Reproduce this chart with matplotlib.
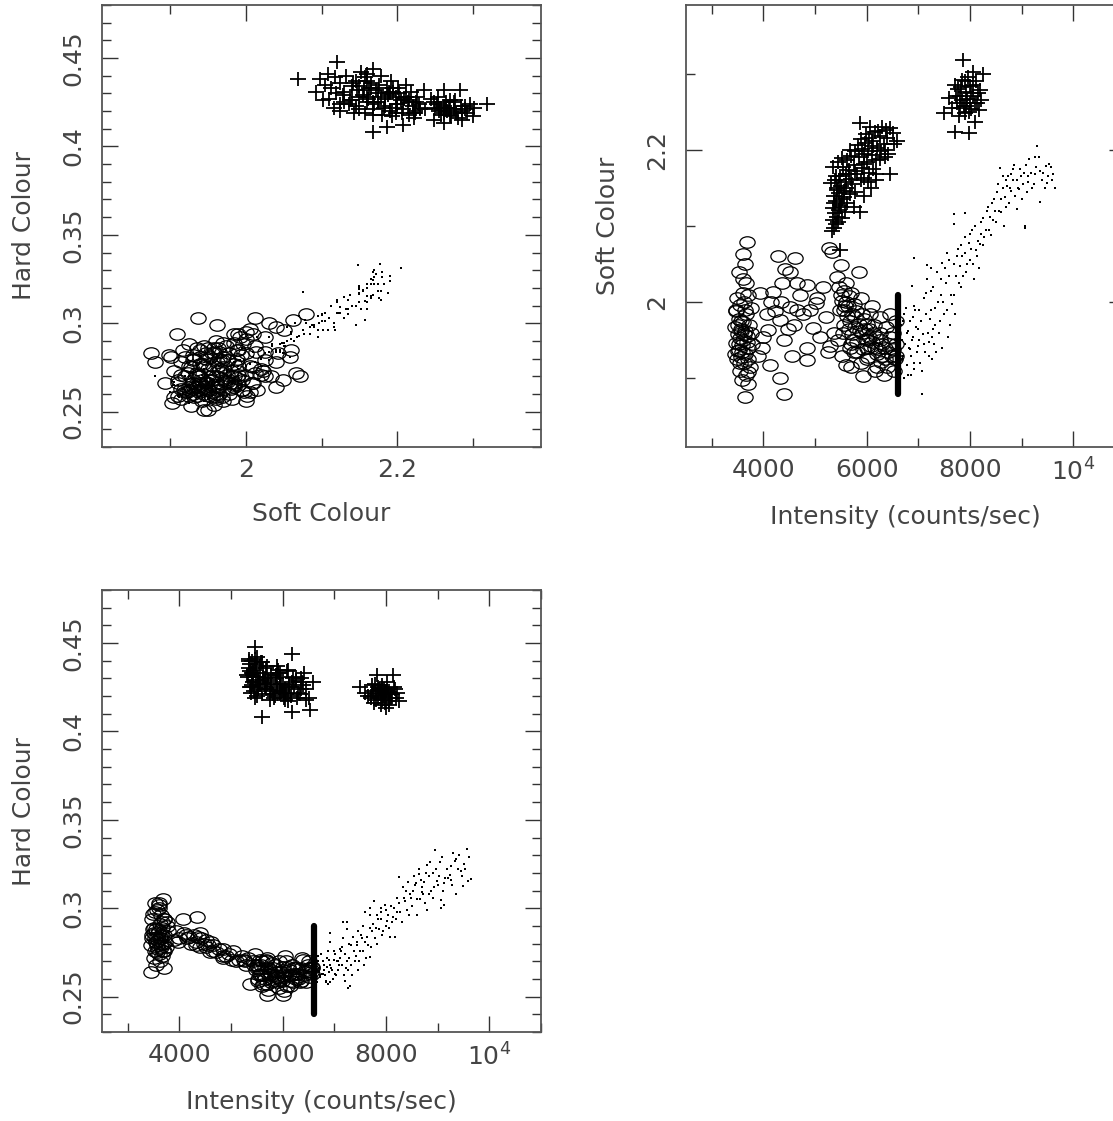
import matplotlib
matplotlib.use("Agg")
import matplotlib.pyplot as plt
from matplotlib.markers import MarkerStyle
from matplotlib.transforms import Affine2D
from matplotlib.ticker import FixedLocator, MultipleLocator, FuncFormatter

# ---- data: (intensity, soft colour, hard colour) ----
# "+" state, lower-intensity clump
plus_a_int = [5330, 5360, 5400, 5350, 5420, 5380, 5460, 5340, 5480, 5410,
              5520, 5370, 5460, 5550, 5430, 5500, 5480,
              5310, 5390, 5600, 5700, 5480, 5820, 5950, 5590, 5650, 6050,
              5350, 5760, 5900, 6170, 5450, 5620, 6000, 5850, 5700, 6250,
              5530, 6100, 5860, 5950, 6080, 5780, 6180, 6170,
              5780, 5900, 6020, 6200, 5830, 5960, 6100, 6330, 5880, 6050,
              6250, 6400, 5990, 6150, 6380, 6450, 5870, 6300, 6450, 6420,
              6530, 6590,
              5450, 5520, 5580, 5500, 5620, 5560, 5680, 5600, 5720, 5400,
              5660, 5880, 6020, 5540, 5780, 6120, 5950, 6350, 5680, 6130,
              6280, 5940, 6220, 6060, 5360, 5420, 5470, 5760, 6500, 6360]
plus_a_soft = [2.093, 2.098, 2.102, 2.108, 2.112, 2.117, 2.121, 2.124, 2.128, 2.133,
               2.136, 2.140, 2.143, 2.146, 2.150, 2.152, 2.069,
               2.156, 2.160, 2.158, 2.162, 2.165, 2.168, 2.163, 2.168, 2.174, 2.170,
               2.178, 2.180, 2.176, 2.168, 2.184, 2.186, 2.184, 2.190, 2.192, 2.188,
               2.189, 2.193, 2.119, 2.140, 2.150, 2.145, 2.160, 2.186,
               2.198, 2.201, 2.199, 2.203, 2.206, 2.209, 2.211, 2.208, 2.214, 2.216,
               2.218, 2.215, 2.221, 2.223, 2.226, 2.229, 2.235, 2.230, 2.168, 2.195,
               2.208, 2.212,
               2.105, 2.110, 2.118, 2.125, 2.130, 2.138, 2.142, 2.150, 2.155, 2.165,
               2.168, 2.160, 2.158, 2.178, 2.172, 2.175, 2.182, 2.190, 2.200, 2.205,
               2.198, 2.195, 2.225, 2.230, 2.130, 2.147, 2.160, 2.125, 2.222, 2.200]
plus_a_hard = [0.431, 0.438, 0.426, 0.441, 0.433, 0.422, 0.448, 0.436, 0.429, 0.440,
               0.424, 0.434, 0.419, 0.437, 0.428, 0.442, 0.438,
               0.432, 0.425, 0.439, 0.427, 0.436, 0.421, 0.433, 0.408, 0.430, 0.424,
               0.440, 0.418, 0.435, 0.444, 0.423, 0.433, 0.427, 0.420, 0.437, 0.429,
               0.431, 0.417, 0.430, 0.426, 0.434, 0.423, 0.428, 0.411,
               0.428, 0.433, 0.422, 0.430, 0.419, 0.427, 0.435, 0.421, 0.425, 0.418,
               0.431, 0.426, 0.423, 0.420, 0.428, 0.424, 0.432, 0.422, 0.418, 0.433,
               0.412, 0.428,
               0.435, 0.427, 0.439, 0.420, 0.431, 0.426, 0.436, 0.421, 0.429, 0.433,
               0.425, 0.437, 0.419, 0.428, 0.432, 0.425, 0.422, 0.430, 0.424, 0.426,
               0.419, 0.431, 0.425, 0.421, 0.425, 0.432, 0.441, 0.424, 0.419, 0.424]

# "+" state, clump near 8000 c/s
plus_b_int = [7870, 7710, 7970, 8100, 7490, 7820, 8140, 7650, 7750, 7800,
              7880, 7920, 7950, 8000, 8050, 8120, 7840, 7960, 8020, 8200,
              7600, 7900, 8260, 8060, 7780, 7990, 8180, 7700,
              7850, 7930, 8010, 7760, 8090, 7900, 8150, 7980, 7720, 8060,
              7810, 8220]
plus_b_soft = [2.318, 2.224, 2.222, 2.237, 2.248, 2.283, 2.262, 2.255, 2.262, 2.270,
               2.258, 2.276, 2.266, 2.284, 2.271, 2.290, 2.292, 2.296, 2.254, 2.278,
               2.268, 2.248, 2.300, 2.302, 2.245, 2.262, 2.252, 2.285,
               2.265, 2.258, 2.275, 2.280, 2.262, 2.290, 2.275, 2.250, 2.270, 2.285,
               2.255, 2.265]
plus_b_hard = [0.424, 0.419, 0.416, 0.421, 0.425, 0.432, 0.432, 0.420, 0.423, 0.418,
               0.422, 0.426, 0.420, 0.423, 0.417, 0.421, 0.419, 0.424, 0.428, 0.419,
               0.422, 0.415, 0.417, 0.422, 0.427, 0.413, 0.424, 0.420,
               0.425, 0.418, 0.421, 0.416, 0.419, 0.423, 0.425, 0.422, 0.426, 0.415,
               0.421, 0.422]

# "o" state
circ_int = [3680, 3600, 3560, 3640, 3520, 3600, 3700, 3490, 3620, 3550,
            3760, 3470, 3660, 3530, 3600, 3720, 3450, 3570, 3640, 3500,
            3680, 3540, 3610, 3460, 3580, 3700, 3510, 3650, 3560, 3480,
            3620, 3740, 3540, 3660, 3590, 3700, 3640, 3750, 3780, 3470,
            3450, 3700, 3530, 3660,
            4290, 4610, 4420, 4520, 4320, 4640, 4965, 4840, 4840, 4320,
            4130, 4000, 3930, 4220, 4190, 4640, 4840, 5030, 5010, 5220,
            4510, 4600, 4090, 4075, 4330, 5260, 5320, 5290, 5250, 4760,
            4400, 3900, 4400, 5100,
            5420, 5510, 5840, 5470, 5550, 5600, 5650, 5520, 5700, 5580,
            5750, 5480, 5800, 5620, 5900, 5680, 5950, 5560, 6000, 5780,
            6050, 5860, 6120, 5720, 6180, 5980, 6250, 5820, 6300, 6080,
            6350, 5920, 6420, 6200, 6480, 6020, 6550, 6280, 5600, 5700,
            5920, 6400, 6520, 6150, 5690, 6010, 5370, 6500, 6560, 6450,
            6380, 6560, 6100, 6250, 5880, 6000, 5760, 5450, 6330, 5530,
            5500, 5560, 5640, 5720, 5780, 5850, 5900, 5960, 6040, 6100,
            6160, 6220, 6300, 6360, 6440, 6500, 6560, 5660, 5740, 5820,
            5600, 5680, 6060, 6140, 6200, 6000, 5540, 6450, 5880, 6260,
            3560, 3620, 3520, 3680, 3580, 3500, 3640, 3700, 3540, 3600,
            4150, 4480, 4700, 4900, 5150, 4360, 3980, 4560]
circ_soft = [2.079, 2.063, 1.962, 2.050, 1.937, 2.012, 2.010, 2.005, 2.000, 1.996,
             1.992, 1.988, 1.984, 1.978, 1.974, 1.970, 1.968, 1.965, 1.962, 1.958,
             1.956, 1.953, 1.950, 1.947, 1.944, 1.940, 1.936, 1.932, 1.928, 1.925,
             1.920, 1.915, 1.910, 1.905, 1.898, 1.909, 1.875, 1.960, 1.945, 1.990,
             1.932, 1.893, 2.040, 2.025,
             2.060, 2.058, 2.043, 2.040, 1.977, 1.990, 1.966, 1.940, 1.924, 1.901,
             1.917, 1.955, 2.012, 1.988, 2.014, 2.025, 2.023, 2.005, 1.999, 1.981,
             1.994, 1.970, 1.963, 1.985, 2.000, 2.071, 2.066, 1.942, 1.935, 1.985,
             1.950, 1.930, 1.880, 1.955,
             2.033, 2.049, 2.040, 2.020, 2.015, 2.025, 2.008, 2.002, 2.012, 1.995,
             1.998, 1.990, 1.988, 1.982, 1.985, 1.975, 1.978, 1.970, 1.972, 1.968,
             1.965, 1.962, 1.960, 1.958, 1.955, 1.952, 1.950, 1.948, 1.945, 1.942,
             1.940, 1.938, 1.935, 1.932, 1.930, 1.928, 1.925, 1.922, 1.918, 1.915,
             1.903, 1.915, 1.910, 1.910, 1.945, 1.950, 1.960, 1.960, 1.975, 1.985,
             1.968, 1.945, 1.995, 1.980, 2.005, 1.925, 1.935, 1.950, 1.905, 1.930,
             2.010, 1.990, 1.995, 1.985, 1.980, 1.972, 1.960, 1.965, 1.955, 1.948,
             1.940, 1.938, 1.930, 1.925, 1.945, 1.938, 1.930, 1.965, 1.950, 1.935,
             2.000, 1.940, 1.985, 1.970, 1.915, 1.940, 1.960, 1.955, 1.920, 1.960,
             1.975, 1.958, 1.945, 1.948, 1.935, 1.970, 1.990, 1.925, 1.920, 2.030,
             2.000, 1.965, 2.010, 1.990, 2.020, 2.025, 1.940, 1.930]
circ_hard = [0.305, 0.302, 0.299, 0.296, 0.303, 0.303, 0.294, 0.297, 0.291, 0.288,
             0.292, 0.285, 0.289, 0.283, 0.287, 0.281, 0.279, 0.284, 0.278, 0.286,
             0.276, 0.281, 0.274, 0.283, 0.277, 0.285, 0.272, 0.280, 0.275, 0.288,
             0.270, 0.278, 0.268, 0.273, 0.282, 0.294, 0.283, 0.290, 0.287, 0.294,
             0.264, 0.266, 0.298, 0.292,
             0.285, 0.281, 0.283, 0.278, 0.279, 0.276, 0.274, 0.277, 0.272, 0.281,
             0.285, 0.283, 0.287, 0.280, 0.284, 0.279, 0.273, 0.276, 0.271, 0.273,
             0.282, 0.275, 0.286, 0.294, 0.295, 0.270, 0.272, 0.268, 0.271, 0.277,
             0.286, 0.282, 0.278, 0.270,
             0.270, 0.268, 0.264, 0.274, 0.262, 0.270, 0.266, 0.259, 0.272, 0.268,
             0.261, 0.265, 0.269, 0.257, 0.264, 0.271, 0.260, 0.263, 0.267, 0.258,
             0.273, 0.262, 0.265, 0.254, 0.268, 0.259, 0.263, 0.266, 0.260, 0.256,
             0.266, 0.270, 0.262, 0.258, 0.268, 0.253, 0.264, 0.261, 0.262, 0.257,
             0.255, 0.271, 0.266, 0.259, 0.251, 0.251, 0.257, 0.270, 0.267, 0.265,
             0.272, 0.263, 0.262, 0.266, 0.261, 0.262, 0.264, 0.268, 0.258, 0.260,
             0.266, 0.271, 0.262, 0.266, 0.263, 0.268, 0.258, 0.264, 0.261, 0.267,
             0.262, 0.266, 0.263, 0.259, 0.264, 0.261, 0.266, 0.260, 0.262, 0.259,
             0.256, 0.270, 0.270, 0.256, 0.263, 0.265, 0.266, 0.258, 0.261, 0.260,
             0.279, 0.283, 0.276, 0.280, 0.286, 0.289, 0.285, 0.276, 0.281, 0.300,
             0.283, 0.280, 0.275, 0.273, 0.271, 0.284, 0.281, 0.279]

# "." state
dot_int = [6590, 6600, 6620, 6640, 6650, 6680, 6700, 6720, 6740, 6760,
           6784, 6800, 6830, 6850, 6870, 6881, 6900, 6914, 6920, 6923,
           6950, 6993, 7010, 7040, 7063, 7080, 7100, 7133, 7171, 7202,
           7220, 7237, 7268, 7290, 7306, 7330, 7360, 7400, 7430, 7460,
           7500, 7540, 7570, 7585, 7620, 7660, 7690, 7690, 7690, 7720,
           7760, 7800, 7829, 7850, 7898, 7900, 7930, 7970, 8000, 8040,
           8080, 8120, 8177, 8205, 7150, 7250, 7160, 7550, 7450, 8250,
           8250, 8316, 8350, 8400, 8455, 8500, 8530, 8580, 8600, 8629,
           8660, 8700, 8750, 8800, 8800, 8840, 8870, 8900, 8940, 8977,
           9000, 9048, 9060, 9070, 9116, 9150, 9200, 9257, 9300, 9353,
           9360, 9400, 9470, 9490, 9510, 9570, 9592, 9640, 8680, 8720,
           8900, 9100, 9250, 8560, 8450, 8380, 8150, 8192,
           6610, 6630, 6660, 6690, 6710, 6730, 6770, 6790, 6810, 6840,
           6860, 6890, 6910, 6940, 6970, 6990, 7020, 7050, 7070, 7110,
           7140, 7180, 7210, 7240, 7260, 7280, 7320, 7350, 7380, 7420,
           7440, 7480, 7520, 7560, 7600, 7640, 7680, 7700, 7740, 7780,
           7820, 7870, 7910, 7950, 7990, 8020, 8060, 8100, 8140, 8220,
           8270, 8330, 8370, 8420, 8480, 8540, 8590, 8640, 8690, 8740,
           8780, 8830, 8860, 8920, 8960, 9020, 9080, 9130, 9180, 9230,
           9280, 9330, 9420, 9450, 9530, 9600]
dot_soft = [1.965, 1.935, 1.985, 1.910, 1.955, 1.925, 1.975, 1.900, 1.945, 1.992,
            1.918, 1.962, 1.938, 1.905, 2.021, 1.950, 1.980, 1.995, 2.058, 1.912,
            1.968, 1.942, 1.990, 1.920, 1.880, 1.958, 2.005, 1.935, 2.030, 1.948,
            1.978, 2.015, 1.925, 1.965, 1.945, 1.992, 2.040, 1.960, 2.010, 1.940,
            1.985, 2.025, 1.955, 2.055, 1.970, 1.998, 2.116, 2.102, 2.010, 2.035,
            2.070, 2.048, 2.020, 2.060, 2.085, 2.117, 2.040, 2.078, 2.055, 2.095,
            2.030, 2.068, 2.045, 2.090, 2.012, 2.045, 2.049, 2.064, 2.052, 2.110,
            2.075, 2.095, 2.125, 2.088, 2.135, 2.105, 2.145, 2.176, 2.118, 2.150,
            2.100, 2.160, 2.130, 2.146, 2.168, 2.175, 2.140, 2.122, 2.148, 2.165,
            2.135, 2.170, 2.097, 2.100, 2.158, 2.188, 2.150, 2.190, 2.205, 2.132,
            2.172, 2.160, 2.179, 2.157, 2.165, 2.177, 2.160, 2.150, 2.138, 2.152,
            2.160, 2.145, 2.168, 2.120, 2.108, 2.112, 2.080, 2.077,
            1.945, 1.920, 1.970, 1.950, 1.930, 1.985, 1.960, 1.905, 1.940, 1.975,
            1.930, 1.955, 1.920, 1.990, 1.935, 1.965, 1.950, 1.975, 1.910, 1.945,
            1.985, 1.960, 1.930, 1.990, 1.955, 2.020, 1.970, 1.935, 2.000, 1.975,
            2.030, 2.000, 2.045, 1.990, 2.035, 2.010, 2.050, 1.985, 2.060, 2.025,
            2.075, 2.035, 2.065, 2.050, 2.090, 2.070, 2.050, 2.100, 2.060, 2.105,
            2.085, 2.120, 2.095, 2.130, 2.120, 2.155, 2.135, 2.165, 2.125, 2.165,
            2.150, 2.160, 2.180, 2.150, 2.175, 2.155, 2.180, 2.165, 2.170, 2.155,
            2.178, 2.190, 2.170, 2.150, 2.182, 2.168]
dot_hard = [0.268, 0.262, 0.272, 0.259, 0.266, 0.270, 0.264, 0.261, 0.274, 0.263,
            0.263, 0.268, 0.258, 0.267, 0.276, 0.257, 0.271, 0.286, 0.281, 0.258,
            0.265, 0.271, 0.274, 0.262, 0.270, 0.268, 0.277, 0.276, 0.292, 0.259,
            0.266, 0.292, 0.255, 0.272, 0.256, 0.279, 0.284, 0.270, 0.281, 0.265,
            0.276, 0.283, 0.268, 0.298, 0.272, 0.279, 0.300, 0.296, 0.2725, 0.287,
            0.304, 0.289, 0.280, 0.294, 0.294, 0.298, 0.285, 0.302, 0.290, 0.296,
            0.284, 0.292, 0.284, 0.298, 0.278, 0.288, 0.283, 0.290, 0.287, 0.303,
            0.3175, 0.292, 0.306, 0.299, 0.308, 0.301, 0.310, 0.314, 0.296, 0.3195,
            0.305, 0.312, 0.303, 0.299, 0.3244, 0.318, 0.310, 0.306, 0.333, 0.3155,
            0.313, 0.326, 0.300, 0.3045, 0.302, 0.317, 0.317, 0.324, 0.331, 0.308,
            0.328, 0.322, 0.318, 0.3125, 0.325, 0.3335, 0.3156, 0.3165, 0.316, 0.308,
            0.320, 0.310, 0.316, 0.313, 0.296, 0.310, 0.300, 0.294,
            0.264, 0.270, 0.258, 0.273, 0.266, 0.262, 0.270, 0.265, 0.262, 0.259,
            0.272, 0.264, 0.268, 0.266, 0.260, 0.276, 0.263, 0.270, 0.265, 0.272,
            0.268, 0.262, 0.274, 0.270, 0.265, 0.280, 0.268, 0.262, 0.276, 0.273,
            0.279, 0.270, 0.285, 0.276, 0.281, 0.284, 0.289, 0.278, 0.291, 0.283,
            0.296, 0.288, 0.300, 0.287, 0.299, 0.293, 0.289, 0.301, 0.295, 0.306,
            0.298, 0.312, 0.304, 0.315, 0.306, 0.318, 0.305, 0.322, 0.309, 0.315,
            0.320, 0.308, 0.326, 0.312, 0.322, 0.318, 0.329, 0.314, 0.322, 0.319,
            0.313, 0.327, 0.330, 0.321, 0.322, 0.329]

# transition marker
cut_int = 6600
cut_soft = [1.88, 2.01]
cut_hard = [0.24, 0.29]

plus_int = plus_a_int + plus_b_int
plus_soft = plus_a_soft + plus_b_soft
plus_hard = plus_a_hard + plus_b_hard

# ---- figure ----
plt.rcParams['font.family'] = ['DejaVu Sans']
plt.rcParams['mathtext.fontset'] = 'dejavusans'

W, H = 1113, 1121
fig = plt.figure(figsize=(W / 100, H / 100), dpi=100)


def box(left, top, w, h):
    return [left / W, 1 - (top + h) / H, w / W, h / H]


ax1 = fig.add_axes(box(102, 5, 439, 442))
ax2 = fig.add_axes(box(686, 5, 439, 442))
ax3 = fig.add_axes(box(102, 590, 439, 442))

plus_m = MarkerStyle('+', transform=Affine2D().scale(1.0, 0.85))
circ_m = MarkerStyle('o', fillstyle='none', transform=Affine2D().scale(1.0, 0.75))

TXT = '#444444'
FS = 18


def draw(ax, x_p, y_p, x_c, y_c, x_d, y_d):
    ax.plot(x_c, y_c, ls='none', marker=circ_m, ms=11, mew=0.9,
            mec='black', mfc='none')
    ax.plot(x_d, y_d, ls='none', marker='s', ms=1.5, mew=0, color='black')
    ax.plot(x_p, y_p, ls='none', marker=plus_m, ms=12, mew=1.3, color='black')


def style(ax):
    for s in ax.spines.values():
        s.set_color('#555555')
        s.set_linewidth(1.3)
    ax.tick_params(which='both', direction='in', top=True, right=True,
                   color='#333333', width=1.0, labelsize=FS, labelcolor=TXT)
    ax.tick_params(which='major', length=11.5)
    ax.tick_params(which='minor', length=6.5)
    ax.tick_params(axis='x', pad=8)
    ax.tick_params(axis='y', pad=12, labelrotation=90)
    for lab in ax.get_yticklabels():
        lab.set_verticalalignment('center')


def int_fmt(v, pos):
    if abs(v - 10000) < 1:
        return r'$10^4$'
    return '%d' % v


hard_ticks = [0.25, 0.3, 0.35, 0.4, 0.45]
hard_fmt = FuncFormatter(lambda v, p: '%g' % v)

# panel 1: hard vs soft
draw(ax1, plus_soft, plus_hard, circ_soft, circ_hard, dot_soft, dot_hard)
ax1.set_xlim(1.81, 2.39)
ax1.set_ylim(0.23, 0.48)
ax1.xaxis.set_major_locator(FixedLocator([2.0, 2.2]))
ax1.xaxis.set_minor_locator(FixedLocator([1.9, 2.1, 2.3]))
ax1.xaxis.set_major_formatter(FuncFormatter(lambda v, p: '%g' % v))
ax1.yaxis.set_major_locator(FixedLocator(hard_ticks))
ax1.yaxis.set_minor_locator(MultipleLocator(0.01))
ax1.yaxis.set_major_formatter(hard_fmt)
ax1.set_xlabel('Soft Colour', fontsize=FS, color=TXT, labelpad=14)
ax1.set_ylabel('Hard Colour', fontsize=FS, color=TXT, labelpad=18)
style(ax1)

# panel 2: soft vs intensity
draw(ax2, plus_int, plus_soft, circ_int, circ_soft, dot_int, dot_soft)
ax2.plot([cut_int, cut_int], cut_soft, color='black', lw=4.5, solid_capstyle='round')
ax2.set_xlim(2500, 11000)
ax2.set_ylim(1.81, 2.39)
ax2.xaxis.set_major_locator(FixedLocator([4000, 6000, 8000, 10000]))
ax2.xaxis.set_minor_locator(MultipleLocator(1000))
ax2.xaxis.set_major_formatter(FuncFormatter(int_fmt))
ax2.yaxis.set_major_locator(FixedLocator([2.0, 2.2]))
ax2.yaxis.set_minor_locator(FixedLocator([1.9, 2.1, 2.3]))
ax2.yaxis.set_major_formatter(FuncFormatter(lambda v, p: '%g' % v))
ax2.set_xlabel('Intensity (counts/sec)', fontsize=FS, color=TXT, labelpad=14)
ax2.set_ylabel('Soft Colour', fontsize=FS, color=TXT, labelpad=18)
style(ax2)

# panel 3: hard vs intensity
draw(ax3, plus_int, plus_hard, circ_int, circ_hard, dot_int, dot_hard)
ax3.plot([cut_int, cut_int], cut_hard, color='black', lw=4.5, solid_capstyle='round')
ax3.set_xlim(2500, 11000)
ax3.set_ylim(0.23, 0.48)
ax3.xaxis.set_major_locator(FixedLocator([4000, 6000, 8000, 10000]))
ax3.xaxis.set_minor_locator(MultipleLocator(1000))
ax3.xaxis.set_major_formatter(FuncFormatter(int_fmt))
ax3.yaxis.set_major_locator(FixedLocator(hard_ticks))
ax3.yaxis.set_minor_locator(MultipleLocator(0.01))
ax3.yaxis.set_major_formatter(hard_fmt)
ax3.set_xlabel('Intensity (counts/sec)', fontsize=FS, color=TXT, labelpad=14)
ax3.set_ylabel('Hard Colour', fontsize=FS, color=TXT, labelpad=18)
style(ax3)

fig.savefig('out.png', dpi=100)
